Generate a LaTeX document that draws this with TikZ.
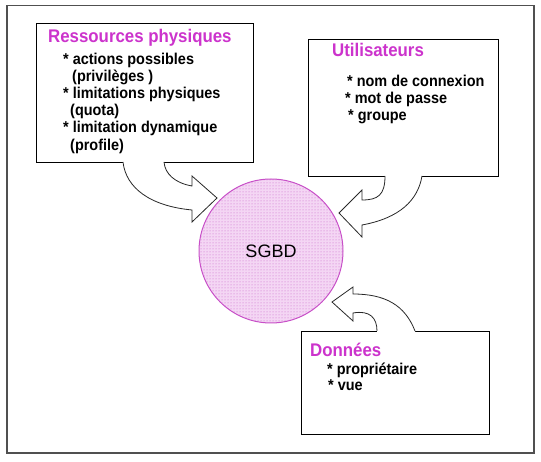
\documentclass[tikz,border=0pt]{standalone}
\usepackage{fontspec}
\setmainfont{Liberation Sans}
\newfontfamily\condfont[FakeStretch=0.92]{Liberation Sans}
\usetikzlibrary{patterns}
\definecolor{titlemag}{RGB}{204,51,204}
\definecolor{circedge}{RGB}{200,80,200}
\definecolor{circfill}{RGB}{244,214,244}
\definecolor{dotcol}{RGB}{200,100,200}
\definecolor{framegray}{RGB}{80,80,80}
\definecolor{arrowgray}{RGB}{40,40,40}
\tikzset{
  infobox/.style={draw=black, line width=1.2pt, fill=white},
  boxtitle/.style={anchor=base west, inner sep=0pt, text=titlemag, font=\condfont\fontsize{18.3}{21}\selectfont\bfseries},
  boxline/.style={anchor=base west, inner sep=0pt, font=\condfont\fontsize{15.7}{18}\selectfont\bfseries},
  arrowfill/.style={fill=white},
  arrowline/.style={draw=arrowgray, line width=0.8pt, line join=miter},
}
\begin{document}
\begin{tikzpicture}[x=1pt,y=-1pt]
\useasboundingbox (0,0) rectangle (541,462);
\fill[white] (0,0) rectangle (541,462);
% outer frame
\node[draw=framegray, line width=1.5pt, minimum width=527pt, minimum height=447pt, inner sep=0pt, anchor=north west] (frame) at (6,5) {};

% boxes
\node[infobox, minimum width=217pt, minimum height=139pt, inner sep=0pt, anchor=north west] (res) at (36,23) {};
\node[infobox, minimum width=190pt, minimum height=137pt, inner sep=0pt, anchor=north west] (usr) at (308,39) {};
\node[infobox, minimum width=188pt, minimum height=103pt, inner sep=0pt, anchor=north west] (don) at (301,331) {};

% central circle
\node[circle, minimum size=144pt, inner sep=0pt, draw=circedge, line width=1pt,
      preaction={fill=circfill}, pattern=dots, pattern color=dotcol,
      font=\fontsize{18}{21}\selectfont] (sgbd) at (271,251) {SGBD};

% arrow 1: Ressources -> SGBD
\coordinate (a1s) at (123,162);
\coordinate (a1e) at (164,162);
\coordinate (a1t) at (217,198);
\fill[arrowfill] (a1s) .. controls (126,188) and (150,206) .. (192,210) -- (192,222) -- (a1t)
  -- (192,176) -- (192,186) .. controls (175,183) and (165,174) .. (a1e) -- (164,160) -- (123,160) -- cycle;
\draw[arrowline] (a1s) .. controls (126,188) and (150,206) .. (192,210) -- (192,222) -- (a1t)
  -- (192,176) -- (192,186) .. controls (175,183) and (165,174) .. (a1e);

% arrow 2: Utilisateurs -> SGBD
\coordinate (a2s) at (385,176);
\coordinate (a2e) at (422,176);
\coordinate (a2t) at (339,213);
\fill[arrowfill] (a2s) .. controls (385,195) and (378,200) .. (362,200) -- (362,190) -- (a2t)
  -- (362,237) -- (362,225) .. controls (400,218) and (418,200) .. (a2e) -- (422,174) -- (385,174) -- cycle;
\draw[arrowline] (a2s) .. controls (385,195) and (378,200) .. (362,200) -- (362,190) -- (a2t)
  -- (362,237) -- (362,225) .. controls (400,218) and (418,200) .. (a2e);

% arrow 3: Donnees -> SGBD
\coordinate (a3s) at (415,331);
\coordinate (a3e) at (377,331);
\coordinate (a3t) at (332,302);
\fill[arrowfill] (a3s) .. controls (405,305) and (385,294) .. (353,294) -- (353,287) -- (a3t)
  -- (353,321) -- (353,313) .. controls (370,310) and (377,318) .. (a3e) -- (377,333) -- (415,333) -- cycle;
\draw[arrowline] (a3s) .. controls (405,305) and (385,294) .. (353,294) -- (353,287) -- (a3t)
  -- (353,321) -- (353,313) .. controls (370,310) and (377,318) .. (a3e);

% texts: Ressources physiques
\node[boxtitle] (rt) at (48,43) {Ressources physiques};
\node[boxline] (r1) at (63,65) {* actions possibles};
\node[boxline] (r2) at (72,82) {(privilèges )};
\node[boxline] (r3) at (63,99) {* limitations physiques};
\node[boxline] (r4) at (70,116) {(quota)};
\node[boxline] (r5) at (63,133) {* limitation dynamique};
\node[boxline] (r6) at (70,151) {(profile)};

% texts: Utilisateurs
\node[boxtitle] (ut) at (332,57) {Utilisateurs};
\node[boxline] (u1) at (347,87) {* nom de connexion};
\node[boxline] (u2) at (345,104) {* mot de passe};
\node[boxline] (u3) at (348,121) {* groupe};

% texts: Donnees
\node[boxtitle] (dt) at (310,356) {Données};
\node[boxline] (d1) at (327,374) {* propriétaire};
\node[boxline] (d2) at (328,391) {* vue};
\end{tikzpicture}
\end{document}
